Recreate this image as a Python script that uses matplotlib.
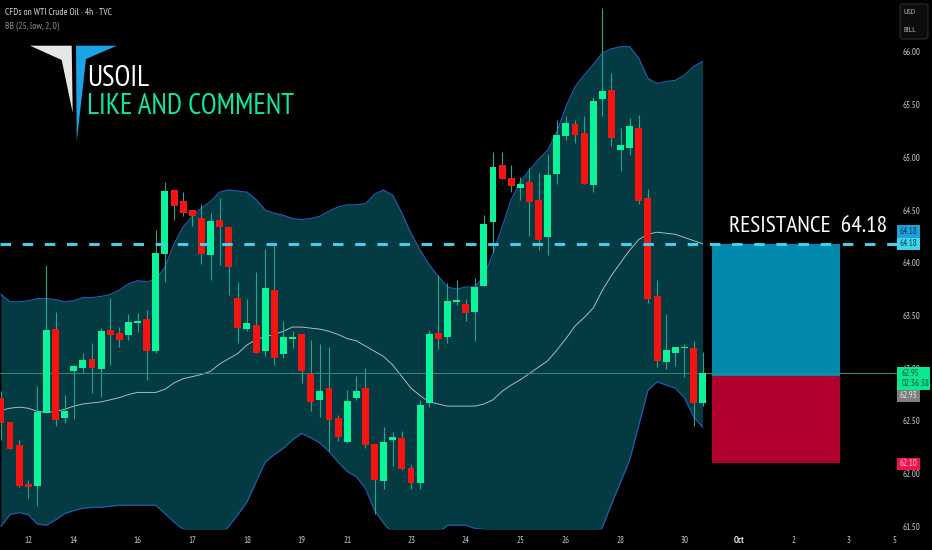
import numpy as np
import matplotlib
matplotlib.use('Agg')
import matplotlib.pyplot as plt
from matplotlib.patches import Polygon, Rectangle, FancyBboxPatch

# 4h candles
opens = [62.72, 62.49, 62.27, 61.90, 61.88, 62.57, 63.37, 62.53, 62.97, 63.00, 63.09, 62.99, 63.36,
         63.33, 63.31, 63.43, 63.47, 63.16, 64.08, 64.69, 64.59, 64.50, 64.42, 64.07, 64.41, 64.34,
         63.67, 63.37, 63.41, 63.16, 63.74, 63.13, 63.28, 63.32, 62.94, 62.70, 62.81, 62.53, 62.30,
         62.72, 62.81, 62.28, 61.93, 62.32, 62.34, 62.05, 61.91, 62.67, 63.33, 63.30, 63.63, 63.61,
         63.53, 63.78, 64.39, 64.93, 64.80, 64.71, 64.77, 64.60, 64.24, 64.84, 65.20, 65.32, 65.23,
         64.74, 65.55, 65.64, 65.07, 65.09, 65.28, 64.61, 63.68, 63.06, 63.14, 63.19, 63.19, 62.67]
highs = [62.78, 62.49, 62.32, 61.94, 62.83, 63.98, 63.53, 62.75, 63.03, 63.14, 63.24, 63.38, 63.67,
         63.39, 63.51, 63.52, 63.55, 64.31, 64.77, 64.69, 64.67, 64.50, 64.56, 64.47, 64.61, 64.34,
         63.82, 63.66, 63.91, 64.13, 64.19, 63.45, 63.35, 63.32, 63.27, 63.23, 63.20, 62.56, 62.79,
         62.93, 63.00, 62.28, 62.44, 62.39, 62.40, 62.08, 62.70, 63.36, 63.88, 63.81, 63.84, 63.66,
         63.86, 64.45, 65.05, 65.05, 64.93, 64.81, 64.90, 64.85, 65.03, 65.35, 65.39, 65.35, 65.39,
         65.57, 66.42, 65.80, 65.28, 65.37, 65.40, 64.70, 63.84, 63.51, 63.20, 63.23, 63.26, 63.15]
lows = [62.32, 62.23, 61.87, 61.77, 61.69, 62.57, 62.45, 62.48, 62.52, 62.95, 62.76, 62.73, 63.03,
        63.20, 63.27, 63.34, 62.89, 63.14, 63.82, 64.41, 64.44, 64.35, 63.99, 63.84, 63.98, 63.69,
        63.24, 63.35, 63.14, 63.12, 63.03, 63.10, 63.19, 62.86, 62.59, 62.54, 62.21, 62.31, 62.29,
        62.70, 62.24, 61.62, 61.85, 62.07, 62.03, 61.85, 61.85, 62.63, 63.18, 63.24, 63.60, 63.45,
        63.26, 63.78, 64.09, 64.79, 64.67, 64.60, 64.25, 64.12, 64.07, 64.75, 65.16, 65.14, 64.75,
        64.67, 65.39, 65.11, 64.87, 65.02, 64.56, 63.62, 63.01, 62.99, 63.02, 62.92, 62.45, 62.64]
closes = [62.48, 62.23, 61.88, 61.87, 62.58, 63.36, 62.51, 62.59, 63.02, 63.08, 63.00, 63.35, 63.31,
          63.27, 63.44, 63.45, 63.16, 64.09, 64.68, 64.54, 64.47, 64.44, 64.08, 64.40, 64.34, 63.96,
          63.38, 63.43, 63.14, 63.76, 63.10, 63.30, 63.30, 62.97, 62.68, 62.78, 62.51, 62.35, 62.69,
          62.78, 62.27, 61.94, 62.30, 62.35, 62.04, 61.91, 62.65, 63.32, 63.28, 63.64, 63.65, 63.52,
          63.77, 64.37, 64.91, 64.79, 64.73, 64.75, 64.58, 64.22, 64.83, 65.21, 65.33, 65.21, 64.75,
          65.53, 65.63, 65.18, 65.12, 65.30, 64.59, 63.66, 63.07, 63.17, 63.20, 63.20, 62.67, 62.95]

# Bollinger bands
bb_upper = [63.70, 63.63, 63.63, 63.64, 63.66, 63.66, 63.65, 63.63, 63.64, 63.67, 63.67, 63.68, 63.70,
            63.74, 63.80, 63.83, 63.82, 63.84, 63.96, 64.18, 64.34, 64.44, 64.52, 64.58, 64.67, 64.69,
            64.68, 64.67, 64.60, 64.50, 64.47, 64.45, 64.42, 64.41, 64.42, 64.44, 64.49, 64.53, 64.55,
            64.55, 64.56, 64.65, 64.69, 64.64, 64.47, 64.28, 64.12, 63.98, 63.87, 63.77, 63.75, 63.77,
            63.77, 63.87, 64.09, 64.34, 64.60, 64.77, 64.88, 64.98, 65.07, 65.24, 65.48, 65.67, 65.78,
            65.88, 65.99, 66.03, 66.05, 66.05, 65.94, 65.75, 65.70, 65.72, 65.73, 65.78, 65.86, 65.91]
bb_mid = [62.60, 62.62, 62.63, 62.62, 62.59, 62.58, 62.59, 62.61, 62.64, 62.66, 62.67, 62.68, 62.70,
          62.72, 62.75, 62.77, 62.77, 62.77, 62.80, 62.86, 62.90, 62.92, 62.94, 62.97, 63.04, 63.09,
          63.14, 63.22, 63.27, 63.30, 63.32, 63.35, 63.39, 63.39, 63.38, 63.37, 63.35, 63.32, 63.28,
          63.26, 63.21, 63.16, 63.11, 63.03, 62.92, 62.81, 62.74, 62.68, 62.66, 62.64, 62.64, 62.64,
          62.64, 62.66, 62.70, 62.78, 62.84, 62.89, 62.95, 63.01, 63.07, 63.17, 63.28, 63.40, 63.48,
          63.57, 63.74, 63.88, 64.00, 64.12, 64.22, 64.27, 64.29, 64.28, 64.27, 64.24, 64.21, 64.18]
bb_lower = [61.50, 61.61, 61.63, 61.61, 61.52, 61.51, 61.56, 61.62, 61.65, 61.67, 61.68, 61.68, 61.69,
            61.70, 61.70, 61.70, 61.70, 61.70, 61.62, 61.54, 61.47, 61.39, 61.31, 61.31, 61.39, 61.50,
            61.61, 61.73, 61.92, 62.11, 62.18, 62.24, 62.32, 62.38, 62.34, 62.29, 62.21, 62.11, 62.02,
            61.97, 61.86, 61.65, 61.53, 61.43, 61.37, 61.34, 61.34, 61.37, 61.43, 61.51, 61.51, 61.51,
            61.48, 61.47, 61.42, 61.37, 61.32, 61.28, 61.23, 61.20, 61.18, 61.16, 61.16, 61.18, 61.23,
            61.32, 61.49, 61.71, 61.92, 62.13, 62.46, 62.79, 62.87, 62.84, 62.81, 62.72, 62.54, 62.44]

# axis labels
price_ticks = [61.5, 62.0, 62.5, 63.0, 63.5, 64.0, 64.5, 65.0, 65.5, 66.0]
date_pos = [3, 8, 15, 21, 27, 33, 38, 45, 51, 57, 62, 68, 75, 81, 87, 93, 98]
date_labels = ['12', '14', '16', '17', '18', '19', '21', '23', '24', '25', '26', '28', '30', 'Oct', '2', '3', '5']

# trade levels
resistance = 64.18
entry = 62.93
stop = 62.10
last_price = 62.95
box_start, box_end = 78.0, 92.08

NARROW = ['PT Sans Narrow', 'Roboto Condensed', 'Open Sans', 'DejaVu Sans']
GREEN = '#0af59a'
RED = '#f5140f'
WICK = '#23a88b'

fig = plt.figure(figsize=(9.32, 5.5), dpi=100, facecolor='black')
ax = fig.add_axes([0, 21 / 550, 898 / 932, 529 / 550], facecolor='black')
x = np.arange(len(opens))
ax.set_xlim(-0.0988, 98.44)
ax.set_ylim(61.474, 66.493)

# bands
ax.fill_between(x, bb_lower, bb_upper, color='#043b42', lw=0, zorder=1)
ax.plot(x, bb_upper, color='#2259a8', lw=0.9, zorder=2)
ax.plot(x, bb_lower, color='#2259a8', lw=0.9, zorder=2)
ax.plot(x, bb_mid, color='#b4c4c4', lw=0.65, zorder=2)

# long/short boxes
ax.add_patch(Rectangle((box_start, entry), box_end - box_start, resistance - entry, color='#0088ad', lw=0, zorder=2))
ax.add_patch(Rectangle((box_start, stop), box_end - box_start, entry - stop, color='#b0002e', lw=0, zorder=2))

# candles
o = np.array(opens)
c = np.array(closes)
cols = [GREEN if b > a else RED for a, b in zip(opens, closes)]
ax.vlines(x, lows, highs, color=WICK, lw=0.8, zorder=3)
ax.bar(x, np.maximum(np.abs(c - o), 0.01), bottom=np.minimum(o, c), width=0.76, color=cols, lw=0, zorder=4)

# price lines
ax.axhline(last_price, color='#2a8f7a', lw=0.7, zorder=3)
ax.axhline(resistance, color='#3fd5ee', lw=2.1, dashes=(3.6, 4.0), dash_capstyle='butt', zorder=5)

ax.yaxis.tick_right()
ax.set_yticks(price_ticks)
ax.set_yticklabels(['%.2f' % p for p in price_ticks])
ax.set_xticks(date_pos)
ax.set_xticklabels(date_labels)
ax.tick_params(axis='y', length=0, colors='#c4c7cf', labelsize=6.4, pad=3)
ax.tick_params(axis='x', length=0, colors='#c4c7cf', labelsize=6.4, pad=5)
for lab in ax.get_yticklabels() + ax.get_xticklabels():
    lab.set_fontfamily(NARROW)
for lab in ax.get_xticklabels():
    if lab.get_text() == 'Oct':
        lab.set_fontweight('bold')
        lab.set_color('#e8e8e8')
for s in ax.spines.values():
    s.set_visible(False)

# overlay in pixels for logo, tags and headers
ov = fig.add_axes([0, 0, 1, 1], facecolor='none')
ov.set_xlim(0, 932)
ov.set_ylim(550, 0)
ov.axis('off')


def tag(yc, bg, fg, label, h=12.4):
    ov.add_patch(Rectangle((897, yc - h / 2), 23, h, color=bg, lw=0))
    ov.text(908.5, yc, label, color=fg, fontsize=6.4, family=NARROW, ha='center', va='center')


ov.add_patch(Polygon([(30, 45.7), (71.7, 45.7), (72.7, 112.7), (61.7, 60)], color='#e6e6e6', lw=0))
ov.add_patch(Polygon([(76, 45.7), (117, 45.7), (86, 59), (76.7, 141.7)], color='#1ba3e8', lw=0))
ov.text(87, 86, 'USOIL', color='white', fontsize=20.8, family=NARROW, ha='left', va='baseline')
ov.text(87, 113.5, 'LIKE AND COMMENT', color='#0ee6a0', fontsize=20.8, family=NARROW, ha='left', va='baseline')
ov.text(5, 12.5, 'CFDs on WTI Crude Oil · 4h · TVC', color='#d1d4dc', fontsize=6.8, family=NARROW, ha='left', va='center')
ov.text(5, 26, 'BB (25, low, 2, 0)', color='#8a8d94', fontsize=6.8, family=NARROW, ha='left', va='center')
ov.text(729, 232, 'RESISTANCE  64.18', color='white', fontsize=16.8, family=NARROW, ha='left', va='baseline')

tag(231.5, '#1ea0dc', '#0a3a4a', '64.18')
tag(244, '#3fd5ee', '#0a3a4a', '64.18')
ov.add_patch(Rectangle((897, 367), 33, 23, color='#0ce68e', lw=0))
ov.text(902, 373.5, '62.95', color='#0a5a3a', fontsize=6.4, family=NARROW, va='center')
ov.text(902, 384, '02:36:38', color='#0a5a3a', fontsize=6.4, family=NARROW, va='center')
tag(396, '#808080', '#e0e0e0', '62.93', h=12)
tag(463.7, '#f0134d', '#ffc4cc', '62.10', h=12)

ov.add_patch(FancyBboxPatch((900, 4), 28, 35, boxstyle='round,pad=0,rounding_size=2.5', fc='#0c0c0c', ec='#2c2c2c', lw=0.8))
ov.text(904, 12.5, 'USD', color='#b2b5be', fontsize=6, family=NARROW, va='center')
ov.text(904, 31, 'BILL', color='#b2b5be', fontsize=6, family=NARROW, va='center')

fig.savefig('out.png', dpi=100, facecolor='black')
